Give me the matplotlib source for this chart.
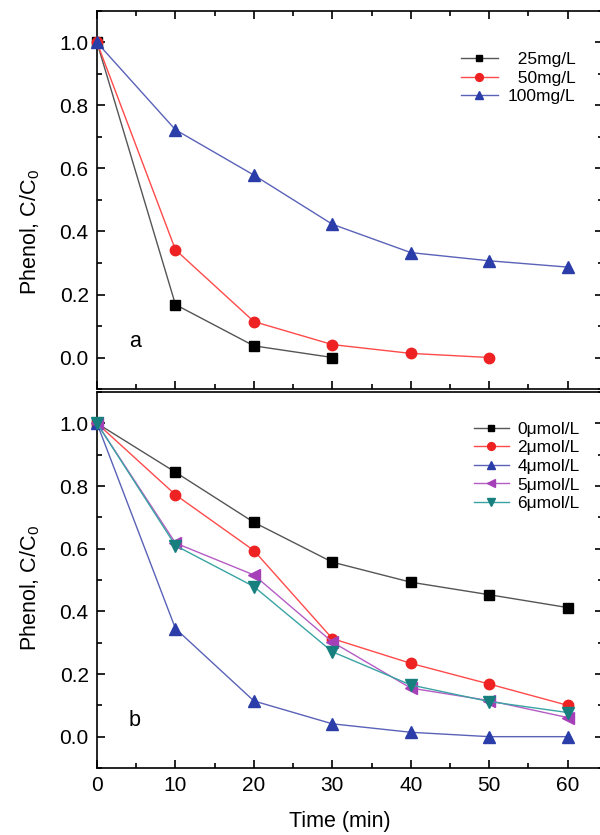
#### Phenol degradation curves, two panels (a: initial conc., b: additive dose)

import matplotlib
matplotlib.use('Agg')
import matplotlib.pyplot as plt
from matplotlib.ticker import MultipleLocator

plt.rcParams["font.family"] = ["Liberation Sans", "DejaVu Sans"]
plt.rcParams["mathtext.fontset"] = "custom"
plt.rcParams["mathtext.rm"] = "Liberation Sans"

# - Data, panel a
time_a = [0, 10, 20, 30, 40, 50, 60]
c25 = [1.0, 0.168, 0.037, 0.0]
c50 = [1.0, 0.342, 0.114, 0.041, 0.013, 0.0]
c100 = [1.0, 0.723, 0.579, 0.423, 0.333, 0.307, 0.287]
labels_a = ["  25mg/L", "  50mg/L", "100mg/L"]

# - Data, panel b
time_b = [0, 10, 20, 30, 40, 50, 60]
d0 = [1.0, 0.844, 0.684, 0.557, 0.493, 0.453, 0.412]
d2 = [1.0, 0.772, 0.594, 0.313, 0.234, 0.168, 0.100]
d4 = [1.0, 0.345, 0.114, 0.041, 0.014, 0.0, 0.0]
d5 = [1.0, 0.618, 0.516, 0.302, 0.155, 0.115, 0.061]
d6 = [1.0, 0.610, 0.479, 0.271, 0.165, 0.112, 0.077]
labels_b = ["0μmol/L", "2μmol/L", "4μmol/L", "5μmol/L", "6μmol/L"]

# - Styles (line colour, marker colour, marker, size)
styles = [
    ("#555555", "#000000", "s", 6.5),
    ("#ff4a4a", "#ee2222", "o", 7.5),
    ("#5a62b8", "#2a3da8", "^", 8),
    ("#b45cc4", "#a640b8", "<", 8),
    ("#3aa3a3", "#17807f", "v", 8),
]

fig = plt.figure(figsize=(6, 8.35), dpi=100)
W = 506 / 600
ax1 = fig.add_axes([97 / 600, (835 - 389) / 835, W, 378 / 835])
ax2 = fig.add_axes([97 / 600, (835 - 768) / 835, W, 376 / 835])

series_a = [c25, c50, c100]
for i, ys in enumerate(series_a):
    lc, mc, mk, ms = styles[i]
    ax1.plot(time_a[:len(ys)], ys, color=lc, lw=1.0, marker=mk, ms=ms,
             mfc=mc, mec=mc, label=labels_a[i], clip_on=False, zorder=3)

series_b = [d0, d2, d4, d5, d6]
for i, ys in enumerate(series_b):
    lc, mc, mk, ms = styles[i]
    ax2.plot(time_b[:len(ys)], ys, color=lc, lw=1.0, marker=mk, ms=ms,
             mfc=mc, mec=mc, label=labels_b[i], clip_on=False, zorder=3)

# - Axes formatting
for ax in (ax1, ax2):
    ax.set_xlim(0, 64.5)
    ax.set_ylim(-0.1, 1.1)
    ax.xaxis.set_major_locator(MultipleLocator(10))
    ax.xaxis.set_minor_locator(MultipleLocator(5))
    ax.yaxis.set_major_locator(MultipleLocator(0.2))
    ax.yaxis.set_minor_locator(MultipleLocator(0.1))
    ax.tick_params(which='major', direction='in', length=6, width=1.2,
                   labelsize=15, pad=6)
    ax.tick_params(which='minor', direction='in', length=3.5, width=1.2)
    for sp in ax.spines.values():
        sp.set_linewidth(1.2)
    ax.set_ylabel(r"Phenol, C/C$\mathregular{_0}$", fontsize=15.5)
    ax.yaxis.set_major_formatter(plt.FuncFormatter(lambda v, p: f"{v:.1f}"))

ax1.tick_params(which='both', top=True, right=True, labelbottom=False)
ax2.tick_params(which='both', top=False, right=True)

ax1.yaxis.set_label_coords(-0.108, 0.415)
ax2.yaxis.set_label_coords(-0.108, 0.48)

ax2.set_xlabel("Time (min)", fontsize=15.5)
ax2.xaxis.set_label_coords(0.48, -0.115)

ax1.text(4.8, 0.05, "a", fontsize=15.5, va='center', ha='center')
ax2.text(4.8, 0.05, "b", fontsize=15.5, va='center', ha='center')

# - Legends
ax1.legend(loc="upper right", bbox_to_anchor=(0.96, 0.91), frameon=False,
           fontsize=12.5, handlelength=2.1, handletextpad=0.6,
           labelspacing=0.2, borderaxespad=0, markerscale=0.75)
ax2.legend(loc="upper right", bbox_to_anchor=(0.968, 0.94), frameon=False,
           fontsize=12.5, handlelength=2.0, handletextpad=0.5,
           labelspacing=0.2, borderaxespad=0, markerscale=0.75)

fig.savefig("out.png", dpi=100)
